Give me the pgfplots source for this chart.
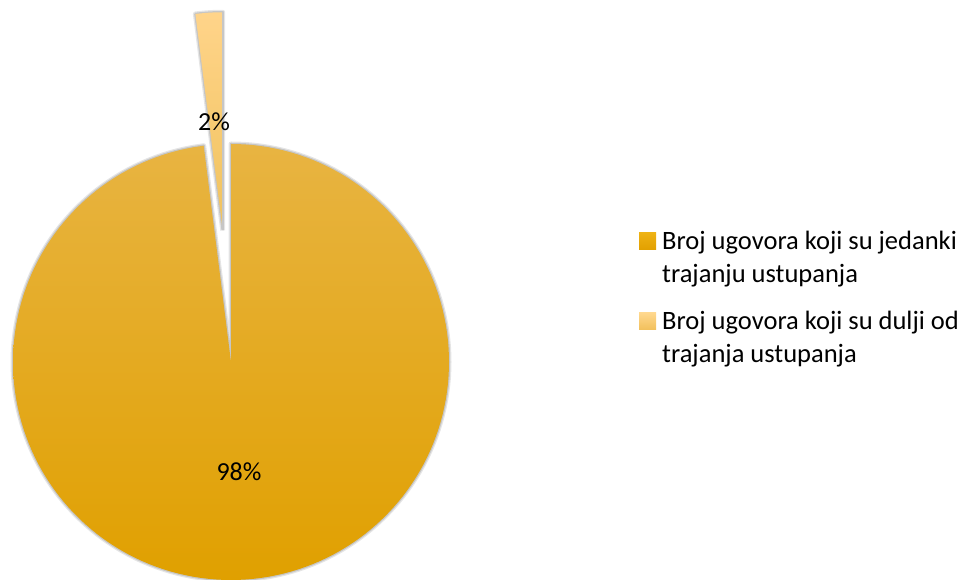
\documentclass[border=0pt]{standalone}
\usepackage{fontspec}
\setmainfont{Carlito}
\usepackage{pgfplots}
\pgfplotsset{compat=1.18}
\definecolor{bigtop}{RGB}{232,180,66}
\definecolor{bigmid}{RGB}{236,174,14}
\definecolor{bigbot}{RGB}{224,160,0}
\definecolor{smalltop}{RGB}{255,212,138}
\definecolor{smallbot}{RGB}{240,194,92}
\definecolor{leg1top}{RGB}{238,178,20}
\definecolor{leg1bot}{RGB}{226,160,0}
\definecolor{leg2top}{RGB}{255,216,142}
\definecolor{leg2bot}{RGB}{242,192,92}
% data: shares in percent
\def\valA{98}
\def\valB{2}
\pgfmathsetmacro\angA{\valA/(\valA+\valB)*360}
\pgfmathsetmacro\angB{\valB/(\valA+\valB)*360}
\pgfmathsetmacro\bis{90+\angB/2}
\pgfmathsetmacro\offx{231+132*cos(\bis)}
\pgfmathsetmacro\offy{218+132*sin(\bis)}
\begin{document}%
\begin{tikzpicture}
\useasboundingbox (0,0) rectangle (964pt,580pt);
\begin{axis}[
  at={(0,0)}, anchor=south west,
  scale only axis, width=964pt, height=580pt,
  xmin=0, xmax=964, ymin=0, ymax=580,
  hide axis, clip=true,
  legend cell align=left,
  legend style={at={(axis cs:636,351)}, anchor=north west, draw=none, fill=none,
    font=\fontsize{26.5}{33}\selectfont,
    nodes={align=left, inner sep=0pt},
    row sep=27pt,
    /tikz/every odd column/.append style={column sep=6pt}},
]
% --- big slice: shadow halo
\addplot[forget plot, draw=black!40, line width=5pt, opacity=0.25, line join=round,
  variable=\t, samples at={-1,0,2,...,350,\angA,-1}]
  ({(t<0) ? 231 : (231+218*cos(90-t))}, {(t<0) ? 218 : (218+218*sin(90-t))});
\addplot[forget plot, draw=black!45, line width=2.5pt, opacity=0.35, line join=round,
  variable=\t, samples at={-1,0,2,...,350,\angA,-1}]
  ({(t<0) ? 231 : (231+218*cos(90-t))}, {(t<0) ? 218 : (218+218*sin(90-t))});
% --- small slice: shadow halo
\addplot[forget plot, draw=black!40, line width=5pt, opacity=0.25, line join=round,
  variable=\t, samples at={-1,0,0.5,...,7,\angB,-1}]
  ({(t<0) ? \offx : (\offx+218*cos(90+t))}, {(t<0) ? \offy : (\offy+218*sin(90+t))});
\addplot[forget plot, draw=black!45, line width=2.5pt, opacity=0.35, line join=round,
  variable=\t, samples at={-1,0,0.5,...,7,\angB,-1}]
  ({(t<0) ? \offx : (\offx+218*cos(90+t))}, {(t<0) ? \offy : (\offy+218*sin(90+t))});
% --- big slice
\addplot[draw=none, top color=bigtop, middle color=bigmid, bottom color=bigbot,
  variable=\t, samples at={-1,0,2,...,350,\angA,-1},
  legend image code/.code={\shade[top color=leg1top,bottom color=leg1bot] (0pt,8pt) rectangle (17pt,25pt);}]
  ({(t<0) ? 231 : (231+218*cos(90-t))}, {(t<0) ? 218 : (218+218*sin(90-t))});
\addlegendentry{Broj ugovora koji su jedanki\\trajanju ustupanja}
% --- small slice (exploded)
\addplot[draw=none, top color=smalltop, bottom color=smallbot,
  variable=\t, samples at={-1,0,0.5,...,7,\angB,-1},
  legend image code/.code={\shade[top color=leg2top,bottom color=leg2bot] (0pt,8pt) rectangle (17pt,25pt);}]
  ({(t<0) ? \offx : (\offx+218*cos(90+t))}, {(t<0) ? \offy : (\offy+218*sin(90+t))});
\addlegendentry{Broj ugovora koji su dulji od\\trajanja ustupanja}
% --- data labels
\node[font=\fontsize{26}{30}\selectfont] at (axis cs:239,108) {98\%};
\node[font=\fontsize{26}{30}\selectfont] at (axis cs:214,458) {2\%};
\end{axis}
\end{tikzpicture}%
\end{document}
